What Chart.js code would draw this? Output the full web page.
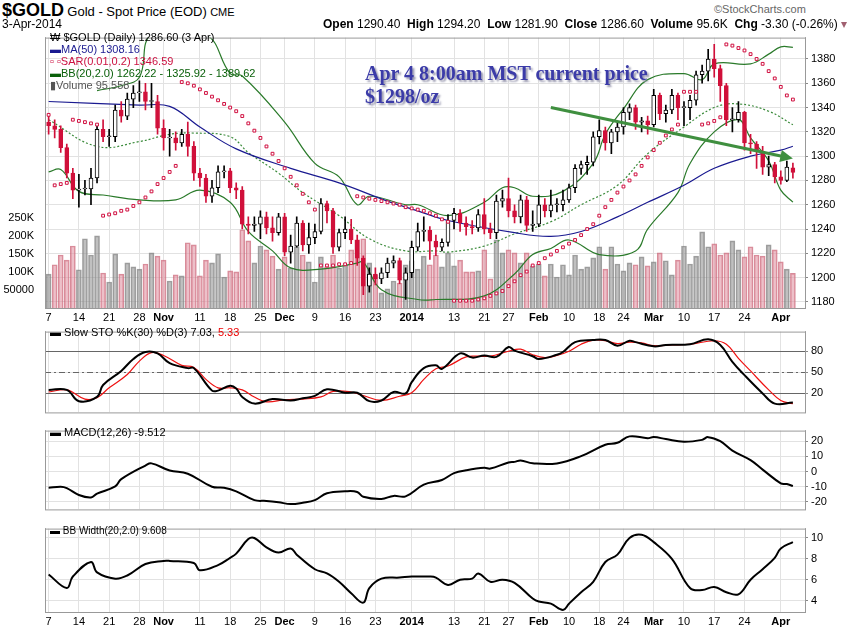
<!DOCTYPE html>
<html>
<head>
<meta charset="utf-8">
<script src="https://cdn.jsdelivr.net/npm/chart.js@4"></script>
<style>
body{margin:0;background:#fff;font-family:"Liberation Sans",Arial,sans-serif;}
#wrap{position:relative;width:850px;height:633px;overflow:hidden;}
canvas{position:absolute;left:0;}
.t{position:absolute;white-space:nowrap;font-size:12px;color:#000;line-height:14px;}
.lg{position:absolute;left:50px;font-size:11px;white-space:nowrap;line-height:12px;}
</style>
</head>
<body>
<div id="wrap">
<canvas id="c1" style="top:28px" width="850" height="294"></canvas>
<canvas id="c2" style="top:322px" width="850" height="100"></canvas>
<canvas id="c3" style="top:421px" width="850" height="98"></canvas>
<canvas id="c4" style="top:519px" width="850" height="114"></canvas>

<div class="t" style="left:2px;top:1px;line-height:18px"><b style="font-size:18px">$GOLD</b> <span style="font-size:13px">Gold - Spot Price (EOD)</span> <span style="font-size:11px">CME</span></div>
<div class="t" style="left:2px;top:17px;font-size:12px">3-Apr-2014</div>
<div class="t" style="left:714px;top:2px;font-size:11px;color:#666">©StockCharts.com</div>
<div class="t" style="left:323px;top:17px;font-size:12px"><b>Open</b> 1290.40&nbsp; <b>High</b> 1294.20&nbsp; <b>Low</b> 1281.90&nbsp; <b>Close</b> 1286.60&nbsp; <b>Volume</b> 95.6K&nbsp; <b>Chg</b> -3.30 (-0.26%) <span style="color:#a06070">▾</span></div>

<div class="lg" style="top:31px">₩ $GOLD (Daily) 1286.60 (3 Apr)</div>
<div class="lg" style="top:43px;color:#1a1a90">▬MA(50) 1308.16</div>
<div class="lg" style="top:55px;color:#cc1040">▫ ▫SAR(0.01,0.2) 1346.59</div>
<div class="lg" style="top:67px;color:#0a600a">▬BB(20,2.0) 1262.22 - 1325.92 - 1389.62</div>
<div class="lg" style="top:79px;color:#555">▮Volume 95,558</div>
<div class="lg" style="top:326px">▬ Slow STO %K(30) %D(3) 7.03, <span style="color:#e00">5.33</span></div>
<div class="lg" style="top:426px">▬ MACD(12,26) -9.512</div>
<div class="lg" style="top:525px;font-size:10px">▬ BB Width(20,2.0) 9.608</div>

<div class="t" style="left:365px;top:62px;line-height:22px;font:bold 20px 'Liberation Serif',serif;color:#3b3ba8;text-shadow:2px 2px 2px #9a9ab0">Apr 4 8:00am MST current price</div>
<div class="t" style="left:365px;top:85px;line-height:22px;font:bold 20px 'Liberation Serif',serif;color:#3b3ba8;text-shadow:2px 2px 2px #9a9ab0">$1298/oz</div>
</div>
<script>
// trading-day ticks (index into the candle list)
var tickIdx = [0,5,10,15,19,25,30,35,39,44,49,54,60,67,72,76,81,86,91,95,100,105,110,115,121];
var tickText = ['7','14','21','28','Nov','11','18','25','Dec','9','16','23','2014','13','21','27','Feb','10','18','24','Mar','10','17','24','Apr'];
var boldTicks = ['Nov','Dec','2014','Feb','Mar','Apr'];

var opens = [1328,1325,1322,1307,1286,1272,1273,1273,1282,1322,1316,1316,1338,1333,1347,1352,1353,1345,1345,
1323,1315,1315,1311,1318,1308,1286,1282,1267,1274,1287,1288,1274,1272,1244,1243,1244,1250,1241,1237,
1250,1221,1226,1245,1227,1233,1238,1261,1255,1225,1237,1240,1231,1216,1193,1203,1199,1204,1212,1214,1198,
1204,1225,1238,1239,1230,1225,1229,1247,1253,1245,1242,1241,1252,1240,1237,1263,1265,1255,1250,1264,1243,
1244,1260,1255,1260,1260,1264,1274,1290,1293,1295,1316,1321,1311,1320,1324,1336,1340,1328,1329,
1326,1350,1335,1338,1350,1340,1340,1346,1367,1370,1380,1372,1358,1330,1330,1336,1311,1310,1304,1291,1293,
1283,1280,1290.4];
var closes = [1325,1322,1307,1286,1272,1273,1273,1282,1322,1316,1316,1338,1333,1347,1352,1353,1345,1345,1323,
1315,1315,1311,1318,1308,1286,1282,1267,1274,1287,1288,1274,1272,1244,1243,1244,1250,1241,1237,1250,
1221,1226,1245,1227,1233,1238,1261,1255,1225,1237,1240,1231,1216,1193,1203,1199,1204,1212,1214,1198,1204,
1225,1238,1239,1230,1225,1229,1247,1253,1245,1242,1241,1252,1240,1237,1263,1265,1255,1250,1264,1243,1244,
1260,1255,1260,1260,1264,1274,1290,1293,1295,1316,1321,1311,1320,1324,1336,1340,1328,1329,1326,
1350,1335,1338,1350,1340,1340,1346,1367,1370,1380,1372,1358,1330,1330,1336,1311,1310,1304,1291,1293,1283,
1280,1291,1286.6];
var highs = [1333,1330,1325,1310,1290,1285,1280,1290,1325,1330,1322,1342,1345,1352,1358,1362,1360,1360,1350,
1330,1322,1320,1322,1328,1312,1290,1285,1280,1292,1292,1290,1278,1275,1250,1250,1255,1254,1250,1253,
1253,1235,1250,1247,1245,1244,1265,1263,1257,1240,1250,1248,1235,1218,1208,1208,1208,1216,1218,1216,1208,
1230,1245,1250,1242,1235,1232,1252,1257,1256,1250,1247,1256,1265,1245,1268,1272,1282,1260,1268,1267,1255,
1268,1265,1272,1265,1272,1277,1293,1296,1300,1320,1330,1324,1322,1328,1340,1343,1342,1332,1333,
1355,1352,1342,1355,1352,1345,1350,1370,1375,1388,1392,1375,1360,1340,1345,1337,1318,1312,1308,1300,1295,
1288,1296,1294.2];
var lows = [1318,1315,1303,1282,1265,1258,1268,1260,1278,1312,1308,1312,1328,1330,1340,1345,1338,1340,1318,
1305,1300,1305,1308,1300,1280,1275,1262,1262,1270,1282,1270,1265,1240,1236,1238,1232,1236,1230,1235,
1218,1212,1225,1222,1220,1228,1236,1245,1220,1222,1232,1228,1210,1186,1188,1194,1195,1200,1208,1195,1182,
1200,1222,1230,1215,1218,1222,1226,1240,1238,1235,1236,1238,1236,1232,1232,1258,1250,1245,1245,1238,1238,
1242,1250,1250,1254,1255,1262,1270,1285,1285,1292,1310,1305,1302,1312,1318,1330,1322,1320,1318,
1324,1330,1328,1335,1330,1325,1330,1342,1360,1362,1365,1345,1325,1320,1328,1305,1302,1290,1285,1284,1278,
1277,1279,1281.9];
var volumes = [94,120,147,133,172,106,192,147,200,97,72,150,94,125,114,108,122,153,144,133,
75,92,89,181,175,89,133,125,150,86,103,100,
217,186,125,172,161,144,108,142,111,170,147,128,72,142,114,147,111,120,161,189,192,125,92,42,53,75,69,120,131,108,144,
120,147,114,153,117,133,100,100,103,161,81,189,153,161,153,125,153,117,122,89,122,86,120,92,147,108,114,139,170,108,
170,
122,103,125,120,142,117,128,153,131,92,133,172,122,144,211,170,178,147,153,186,161,142,170,147,144,175,161,128,108,
96];

var sar = [1334,1276,1277,1278,1330,1329,1328,1327,1326,1251,1252,1253,1255,1256,1259,1262,1266,1271,1277,1282,1287,1292,
1361,1360,1358,1355,1352,1349,1346,1343,1340,1337,1333,1327,1321,1315,1308,1302,1296,1290,1283,1276,1269,1262,1256,
1210,1210,1210,1211,1211,1212,
1267,1266,1265,1264,1263,1262,1261,1260,1258,1257,1256,1255,1253,1251,1248,1246,
1181,1181,1181,1181,1182,1183,1185,1187,1189,1193,1197,1202,1205,1210,1212,1216,1219,1222,1225,1228,1231,1235,1240,1244,
1251,1258,1264,1270,1275,1280,1285,1292,1299,1305,1311,1317,1322,1326,
1353,1353,1353,1326,1327,1329,1332,
1392,1391,1389,1387,1384,1380,1376,1370,1364,1357,1350,1346.6];

var maIdx = [0,15,20,25,31,40,48,56,61,66,77,83,88,94,99,105,110,116,121,123];
var maVal = [1345,1342,1341,1324,1306,1290,1278,1263,1255,1247,1237,1234,1238,1250,1262,1276,1290,1300,1305,1308.2];
var bbUpIdx = [8,12,15,17,26,30,32,39,44,48,51,53,59,61,66,72,75,77,80,85,90,92,95,99,105,108,110,116,119,121,123];
var bbUpVal = [1354,1358,1365,1400,1400,1368,1366,1328,1294,1283,1260,1267,1260,1260,1251,1262,1274,1274,1267,1271,1294,1318,1339,1363,1368,1363,1376,1376,1384,1390,1389.6];
var bbMidIdx = [0,8,15,20,24,30,33,38,42,48,53,59,64,66,72,77,83,88,94,99,105,110,114,119,123];
var bbMidVal = [1330,1308,1312,1318,1319,1316,1303,1286,1270,1251,1232,1222,1222,1221,1226,1236,1246,1260,1276,1302,1324,1340,1343,1337,1325.9];
var bbLoIdx = [0,2,5,9,15,21,25,30,33,37,40,45,51,52,55,61,64,72,77,80,83,86,91,97,99,104,106,110,114,116,119,121,123];
var bbLoVal = [1287,1289,1271,1268,1264,1264,1272,1262,1238,1222,1208,1207,1212,1213,1190,1182,1182,1185,1203,1219,1224,1231,1219,1222,1240,1270,1294,1320,1330,1315,1296,1272,1262.2];

var arrowIdx = [83,123];
var arrowVal = [1340,1298];

var stoKIdx = [0,3,5,8,9,12,14,16,18,20,23,24,27,28,30,31,32,34,37,40,42,44,46,49,51,53,55,57,59,60,62,64,65,68,70,72,74,76,77,80,81,84,85,87,90,92,94,96,97,100,102,106,109,111,113,115,118,120,123];
var stoKVal = [25,25,9,15,32,52,69,79,77,63,56,56,24,24,31,27,15,5.5,12,10,13,16.5,26,21,21,9,10,22,20,36,56,60,55,77,71,74,72,86,81,73,69,75,79,93,96,96,88,95,93,87,89,90,97,89,65,46,20,5.5,7.03];
var stoDIdx = [0,3,6,8,10,13,15,17,19,22,24,26,28,30,32,34,36,39,42,45,47,50,52,55,58,60,62,64,66,69,71,73,76,78,80,82,84,86,88,90,92,94,96,98,100,103,106,110,112,114,116,119,121,123];
var stoDVal = [22,25,12,14,28,47,66,78,74,60,57,40,28,28,25,15,8,11,12,15,23,22,17,10,16,21,40,55,59,72,73,73,80,83,75,71,74,80,90,96,95,91,93,92,88,89,90,95,90,70,52,25,10,5.33];
var stoLevels = [80,50,20];

var macdIdx = [0,2,3,5,7,8,11,12,16,17,20,23,27,29,31,34,36,38,40,42,44,46,49,51,52,55,57,59,62,65,67,69,72,73,76,77,78,80,84,88,92,94,96,99,100,102,105,108,109,111,113,116,118,121,122,123];
var macdVal = [-10.7,-10,-10.9,-15.4,-17,-14.5,-9.8,-5,4,5.4,0.7,-1.4,-10,-10.7,-13,-18.8,-19.3,-20.2,-21.4,-20.5,-18.8,-14.3,-13,-13.4,-16.6,-18,-16,-16.3,-8.6,-5.5,-1,0.9,2.5,2,6,6.4,7.3,5.5,5.4,10.2,17.7,19,23.2,22,22.8,21.4,19.6,20.9,22.7,20,13.8,7.5,1.3,-7.7,-8.2,-9.5];

var bbwIdx = [0,3,4,7,8,11,13,16,19,20,24,25,28,30,31,33,34,36,38,40,41,44,46,48,50,52,53,55,58,60,63,64,66,68,70,71,73,75,77,80,81,83,85,86,88,90,92,94,96,98,100,103,106,108,110,112,114,116,118,120,121,123];
var bbwVal = [6.5,5.2,6.3,7.7,6.7,6.1,6.4,7.5,7.8,7.8,7.6,6.9,7.4,8.1,8.5,9.9,10,9.1,8.6,9,8.4,7,6.6,5.8,4.7,3.8,5.2,6.1,6.2,6.3,6.3,6.2,5.5,6,6.1,6.6,5.8,6,5.7,4.2,3.9,3.7,3.1,3.7,4.8,5.8,7.7,8.4,10,10.3,9.6,8,5.2,5,5.3,4.8,4.6,6,7,8.1,9,9.608];

function pts(ix, vals) { return ix.map(function (x, i) { return {x: x, y: vals[i]}; }); }

var FONT = "'Liberation Sans', Arial, sans-serif";
var RED = '#d0103a';
var GRID = '#e2e2e2';

function xScale(showLabels, h) {
  return {
    type: 'linear', min: -0.6, max: 125, offset: false,
    afterBuildTicks: function (s) { s.ticks = tickIdx.map(function (v) { return {value: v}; }); },
    afterFit: function (s) { s.height = h; },
    grid: {color: GRID, drawTicks: false, offset: false},
    border: {display: false},
    ticks: {
      display: showLabels, autoSkip: false, maxRotation: 0, padding: 3, color: '#000',
      font: function (c) {
        var t = tickText[tickIdx.indexOf(c.tick ? c.tick.value : -1)];
        return {family: FONT, size: 11, weight: boldTicks.indexOf(t) >= 0 ? 'bold' : 'normal'};
      },
      callback: function (v) { var i = tickIdx.indexOf(v); return i >= 0 ? tickText[i] : ''; }
    }
  };
}
function rightAxis(min, max, ticks, labelFn) {
  return {
    position: 'right', min: min, max: max,
    afterBuildTicks: function (s) { s.ticks = ticks.map(function (v) { return {value: v}; }); },
    afterFit: function (s) { s.width = 45; },
    grid: {color: GRID, drawTicks: true, tickLength: 3, tickColor: '#888'},
    border: {color: '#aaa'},
    ticks: {color: '#000', padding: 3, font: {family: FONT, size: 11}, callback: labelFn || function (v) { return v; }}
  };
}
function leftBlank() {
  return {position: 'left', display: true, afterFit: function (s) { s.width = 45; },
    grid: {display: false}, border: {color: '#aaa'}, ticks: {display: false}};
}
function frame() {
  return {id: 'frame', afterDraw: function (ch) {
    var a = ch.chartArea, g = ch.ctx;
    g.save(); g.strokeStyle = '#999'; g.lineWidth = 1;
    g.strokeRect(a.left + 0.5, a.top + 0.5, a.right - a.left, a.bottom - a.top);
    g.restore();
  }};
}
var common = {responsive: false, animation: false, events: [],
  plugins: {legend: {display: false}, tooltip: {enabled: false}}};

// ---- price panel
var up = closes.map(function (c, i) { return c >= opens[i]; });
var wickData = highs.map(function (h, i) { return {x: i, y: [lows[i], h]}; });
var bodyData = closes.map(function (c, i) {
  var o = opens[i]; if (Math.abs(c - o) < 0.8) o = c + 0.8;
  return {x: i, y: [o, c]};
});
var volData = volumes.map(function (v, i) { return {x: i, y: v * 1000}; });
var volDown = closes.map(function (c, i) { return i > 0 && c < closes[i - 1]; });

var arrowPlugin = {id: 'arrow', afterDatasetsDraw: function (ch) {
  var xs = ch.scales.x, ys = ch.scales.y, g = ch.ctx;
  var x1 = xs.getPixelForValue(arrowIdx[0]), y1 = ys.getPixelForValue(arrowVal[0]);
  var x2 = xs.getPixelForValue(arrowIdx[1]), y2 = ys.getPixelForValue(arrowVal[1]);
  var ang = Math.atan2(y2 - y1, x2 - x1);
  g.save(); g.strokeStyle = '#3f8f3f'; g.fillStyle = '#3f8f3f'; g.lineWidth = 3;
  g.beginPath(); g.moveTo(x1, y1); g.lineTo(x2 - 10 * Math.cos(ang), y2 - 10 * Math.sin(ang)); g.stroke();
  g.beginPath(); g.moveTo(x2, y2);
  g.lineTo(x2 - 14 * Math.cos(ang - 0.45), y2 - 14 * Math.sin(ang - 0.45));
  g.lineTo(x2 - 14 * Math.cos(ang + 0.45), y2 - 14 * Math.sin(ang + 0.45));
  g.closePath(); g.fill(); g.restore();
}};

new Chart(document.getElementById('c1'), {
  data: {datasets: [
    {type: 'bar', data: bodyData, yAxisID: 'y', grouped: false, barThickness: 4, order: 1,
      backgroundColor: up.map(function (u) { return u ? '#ffffff' : RED; }),
      borderColor: up.map(function (u) { return u ? '#000' : RED; }), borderWidth: 1, borderSkipped: false},
    {type: 'bar', data: wickData, yAxisID: 'y', grouped: false, barThickness: 1, order: 2,
      backgroundColor: up.map(function (u) { return u ? '#000' : RED; })},
    {type: 'line', data: pts(maIdx, maVal), yAxisID: 'y', borderColor: '#1a1a90', borderWidth: 1.2, pointRadius: 0, tension: 0.4, order: 3},
    {type: 'line', data: pts(bbUpIdx, bbUpVal), yAxisID: 'y', borderColor: '#2a7a2a', borderWidth: 1.2, pointRadius: 0, tension: 0.4, order: 3},
    {type: 'line', data: pts(bbMidIdx, bbMidVal), yAxisID: 'y', borderColor: '#3a8a3a', borderWidth: 1.2, borderDash: [2, 2], pointRadius: 0, tension: 0.4, order: 3},
    {type: 'line', data: pts(bbLoIdx, bbLoVal), yAxisID: 'y', borderColor: '#2a7a2a', borderWidth: 1.2, pointRadius: 0, tension: 0.4, order: 3},
    {type: 'line', data: sar.map(function (v, i) { return {x: i, y: v}; }), yAxisID: 'y', showLine: false,
      pointStyle: 'rect', pointRadius: 2, pointBorderColor: '#d01040', pointBackgroundColor: '#fff', pointBorderWidth: 1, order: 0},
    {type: 'bar', data: volData, yAxisID: 'vol', grouped: false, barThickness: 5, order: 9,
      backgroundColor: volDown.map(function (d) { return d ? 'rgba(225,150,165,0.6)' : 'rgba(150,150,150,0.6)'; }),
      borderColor: volDown.map(function (d) { return d ? 'rgba(200,90,110,0.7)' : 'rgba(120,120,120,0.7)'; }), borderWidth: 1}
  ]},
  options: Object.assign({}, common, {
    layout: {padding: {top: 2, bottom: 0, left: 0, right: 0}},
    scales: {
      x: xScale(true, 14),
      y: rightAxis(1175, 1397.6, [1180,1200,1220,1240,1260,1280,1300,1320,1340,1360,1380]),
      vol: {position: 'left', min: 0, max: 750000,
        afterBuildTicks: function (s) { s.ticks = [50000,100000,150000,200000,250000].map(function (v) { return {value: v}; }); },
        afterFit: function (s) { s.width = 45; },
        grid: {display: false}, border: {color: '#aaa'},
        ticks: {color: '#000', font: {family: FONT, size: 11}, padding: 3,
          callback: function (v) { return v === 50000 ? '50000' : (v / 1000) + 'K'; }}}
    }
  }),
  plugins: [frame(), arrowPlugin]
});

// ---- slow stochastics
new Chart(document.getElementById('c2'), {
  data: {datasets: [
    {type: 'line', data: pts(stoKIdx, stoKVal), borderColor: '#000', borderWidth: 2, pointRadius: 0, tension: 0.4},
    {type: 'line', data: pts(stoDIdx, stoDVal), borderColor: '#ee1111', borderWidth: 1.2, pointRadius: 0, tension: 0.4}
  ]},
  options: Object.assign({}, common, {
    layout: {padding: {top: 1, bottom: 1}},
    scales: {x: xScale(false, 0), y: rightAxis(-7, 108, stoLevels), l: leftBlank()}
  }),
  plugins: [frame(), {id: 'levels', beforeDatasetsDraw: function (ch) {
    var a = ch.chartArea, g = ch.ctx, ys = ch.scales.y;
    g.save();
    stoLevels.forEach(function (v) {
      var y = Math.round(ys.getPixelForValue(v)) + 0.5;
      g.strokeStyle = '#666'; g.lineWidth = 1;
      g.setLineDash(v === 50 ? [6, 3, 2, 3] : []);
      g.beginPath(); g.moveTo(a.left, y); g.lineTo(a.right, y); g.stroke();
    });
    g.restore();
  }}]
});

// ---- MACD
new Chart(document.getElementById('c3'), {
  data: {datasets: [
    {type: 'line', data: pts(macdIdx, macdVal), borderColor: '#000', borderWidth: 2, pointRadius: 0, tension: 0.4}
  ]},
  options: Object.assign({}, common, {
    layout: {padding: {top: 1, bottom: 1}},
    scales: {x: xScale(false, 0), y: rightAxis(-24.9, 27, [-20,-10,0,10,20]), l: leftBlank()}
  }),
  plugins: [frame()]
});

// ---- BB width
new Chart(document.getElementById('c4'), {
  data: {datasets: [
    {type: 'line', data: pts(bbwIdx, bbwVal), borderColor: '#000', borderWidth: 2, pointRadius: 0, tension: 0.4}
  ]},
  options: Object.assign({}, common, {
    layout: {padding: {top: 1, bottom: 0}},
    scales: {x: xScale(true, 21), y: rightAxis(2.9, 10.9, [4,6,8,10]), l: leftBlank()}
  }),
  plugins: [frame()]
});
</script>
</body>
</html>
